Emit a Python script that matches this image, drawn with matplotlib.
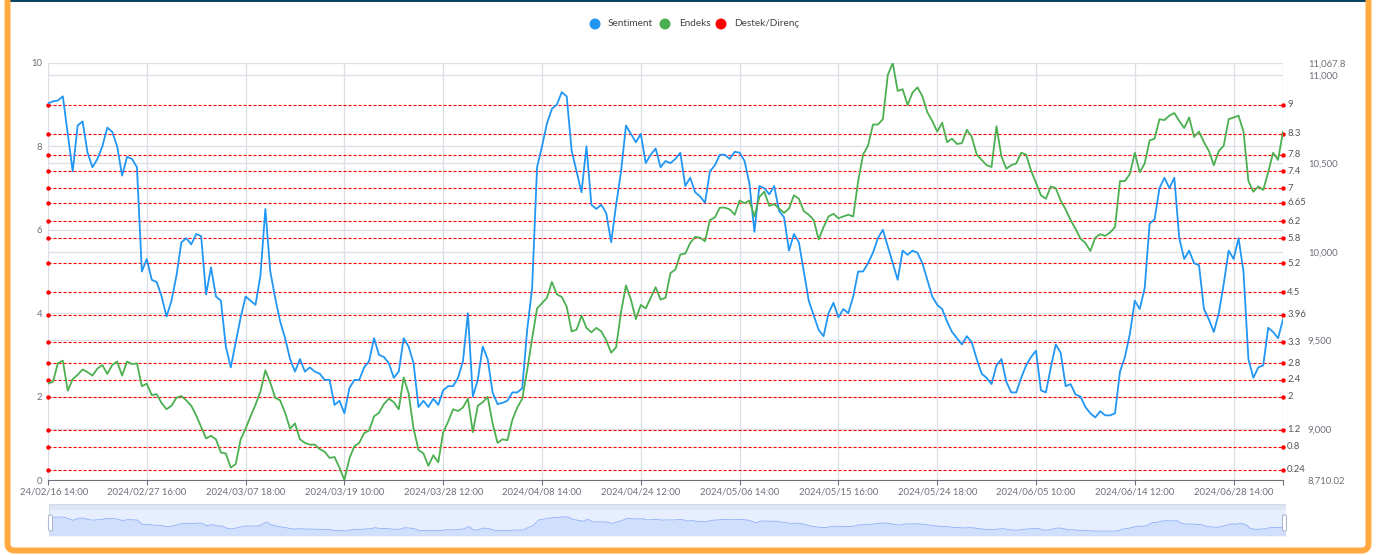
import matplotlib
matplotlib.use('Agg')
import matplotlib.pyplot as plt
import matplotlib.transforms as mtransforms
from matplotlib.patches import FancyBboxPatch, Rectangle, Circle
import numpy as np

W, H, DPI = 1381, 555, 100
plt.rcParams['font.family'] = ['Lato', 'DejaVu Sans']

# ---------------- data ----------------
series_names = ['Sentiment', 'Endeks', 'Destek/Direnç']
series_colors = ['#2196F3', '#4CAF50', '#FF0000']

tick_labels = ["24/02/16 14:00", "2024/02/27 16:00", "2024/03/07 18:00", "2024/03/19 10:00",
               "2024/03/28 12:00", "2024/04/08 14:00", "2024/04/24 12:00", "2024/05/06 14:00",
               "2024/05/15 16:00", "2024/05/24 18:00", "2024/06/05 10:00", "2024/06/14 12:00",
               "2024/06/28 14:00"]
tick_step = 20

sentiment = [
    9.03, 9.08, 9.1, 9.2, 8.3, 7.4, 8.5, 8.6, 7.85, 7.5,
    7.7, 8.0, 8.45, 8.35, 8.0, 7.3, 7.75, 7.7, 7.5, 5.0,
    5.3, 4.8, 4.75, 4.4, 3.92, 4.3, 4.9, 5.7, 5.8, 5.65,
    5.9, 5.85, 4.45, 5.1, 4.4, 4.3, 3.2, 2.7, 3.3, 3.9,
    4.4, 4.3, 4.2, 4.9, 6.5, 5.0, 4.36, 3.8, 3.4, 2.9,
    2.6, 2.9, 2.6, 2.7, 2.6, 2.55, 2.4, 2.4, 1.8, 1.9,
    1.6, 2.2, 2.4, 2.4, 2.7, 2.85, 3.4, 3.0, 2.95, 2.8,
    2.45, 2.6, 3.4, 3.2, 2.8, 1.75, 1.9, 1.75, 1.95, 1.8,
    2.15, 2.25, 2.25, 2.45, 2.85, 4.0, 2.0, 2.4, 3.2, 2.9,
    2.1, 1.82, 1.85, 1.9, 2.1, 2.1, 2.2, 3.6, 4.6, 7.5,
    8.0, 8.55, 8.9, 9.0, 9.3, 9.2, 7.9, 7.4, 6.9, 8.0,
    6.6, 6.5, 6.6, 6.4, 5.7, 6.6, 7.4, 8.5, 8.3, 8.1,
    8.3, 7.6, 7.8, 7.95, 7.5, 7.65, 7.6, 7.7, 7.85, 7.05,
    7.25, 6.9, 6.8, 6.65, 7.4, 7.55, 7.8, 7.8, 7.7, 7.87,
    7.85, 7.65, 7.1, 5.95, 7.05, 7.0, 6.85, 7.05, 6.45, 6.3,
    5.5, 5.9, 5.7, 5.0, 4.3, 3.95, 3.6, 3.45, 4.0, 4.25,
    3.9, 4.1, 4.0, 4.4, 5.0, 5.0, 5.2, 5.45, 5.8, 6.0,
    5.6, 5.2, 4.8, 5.5, 5.4, 5.5, 5.45, 5.2, 4.8, 4.4,
    4.2, 4.1, 3.8, 3.55, 3.4, 3.25, 3.45, 3.3, 2.9, 2.55,
    2.45, 2.3, 2.75, 2.9, 2.35, 2.1, 2.1, 2.45, 2.75, 2.95,
    3.1, 2.15, 2.1, 2.7, 3.25, 3.05, 2.25, 2.3, 2.05, 2.0,
    1.75, 1.6, 1.5, 1.65, 1.55, 1.55, 1.6, 2.6, 2.95, 3.5,
    4.3, 4.1, 4.6, 6.15, 6.25, 7.0, 7.25, 7.0, 7.25, 5.8,
    5.3, 5.5, 5.2, 5.15, 4.1, 3.85, 3.55, 4.0, 4.7, 5.5,
    5.3, 5.8, 5.0, 2.9, 2.45, 2.7, 2.75, 3.65, 3.55, 3.4,
    3.85,
]

endeks = [
    9255, 9265, 9370, 9385, 9215, 9280, 9305, 9335, 9320, 9300,
    9340, 9360, 9310, 9360, 9380, 9300, 9380, 9365, 9370, 9240,
    9255, 9190, 9195, 9145, 9110, 9130, 9175, 9185, 9160, 9130,
    9075, 9010, 8945, 8960, 8940, 8865, 8860, 8780, 8800, 8940,
    9000, 9070, 9135, 9210, 9330, 9260, 9175, 9160, 9090, 9000,
    9030, 8940, 8920, 8910, 8910, 8885, 8870, 8835, 8840, 8780,
    8710.02, 8830, 8900, 8920, 8975, 8990, 9070, 9090, 9140, 9170,
    9150, 9110, 9290, 9200, 9000, 8880, 8860, 8790, 8850, 8810,
    8980, 9040, 9110, 9100, 9120, 9170, 8980, 9130, 9150, 9180,
    9030, 8920, 8940, 8935, 9050, 9120, 9170, 9330, 9510, 9680,
    9710, 9740, 9830, 9760, 9745, 9690, 9550, 9560, 9640, 9570,
    9545, 9570, 9550, 9500, 9430, 9460, 9660, 9810, 9730, 9620,
    9700, 9680, 9740, 9800, 9730, 9740, 9880, 9900, 9985, 9990,
    10050, 10085, 10080, 10060, 10180, 10195, 10250, 10250, 10240, 10210,
    10290, 10275, 10290, 10200, 10310, 10340, 10260, 10270, 10245, 10220,
    10245, 10320, 10300, 10230, 10210, 10180, 10070, 10140, 10200, 10215,
    10190, 10200, 10210, 10200, 10400, 10550, 10600, 10720, 10720, 10750,
    11000, 11067.8, 10910, 10920, 10830, 10900, 10930, 10880, 10790, 10740,
    10680, 10730, 10620, 10640, 10610, 10615, 10690, 10650, 10550, 10520,
    10490, 10480, 10710, 10540, 10470, 10490, 10500, 10560, 10550, 10460,
    10390, 10320, 10300, 10370, 10360, 10290, 10240, 10180, 10130, 10075,
    10050, 10005, 10080, 10100, 10090, 10110, 10140, 10400, 10400, 10440,
    10560, 10450, 10500, 10630, 10640, 10750, 10745, 10770, 10785, 10740,
    10700, 10760, 10650, 10680, 10620, 10570, 10490, 10570, 10600, 10750,
    10760, 10770, 10680, 10400, 10340, 10370, 10350, 10450, 10560, 10520,
    10680,
]

levels = [9, 8.3, 7.8, 7.4, 7, 6.65, 6.2, 5.8, 5.2, 4.5, 3.96, 3.3, 2.8, 2.4, 2, 1.2, 0.8, 0.24]
left_ticks = [0, 2, 4, 6, 8, 10]
right_ticks = [9000, 9500, 10000, 10500, 11000]

# ---------------- figure ----------------
fig = plt.figure(figsize=(W / DPI, H / DPI), dpi=DPI)
fig.patch.set_facecolor('white')


def fx(px):
    return px / W


def fy(py):
    return 1 - py / H


AXC = '#6E7079'
GRID = '#DCDFE5'
FS = 6.8

L, R, T, B = 48, 1283, 63, 480
ax = fig.add_axes([fx(L), fy(B), (R - L) / W, (B - T) / H])
ax2 = ax.twinx()
n = len(sentiment)
x = np.arange(n)
emin, emax = min(endeks), max(endeks)
ax.set_xlim(0, n - 1)
ax.set_ylim(0, 10)
ax2.set_ylim(emin, emax)
ax.set_facecolor('none')

# grid lines
for v in left_ticks[1:]:
    ax.axhline(v, color=GRID, lw=0.9, zorder=0.5)
btrans = mtransforms.blended_transform_factory(ax.transAxes, ax2.transData)
for v in right_ticks:
    ax.plot([0, 1], [v, v], transform=btrans, color=GRID, lw=0.9, zorder=0.5)
xt = list(range(0, n, tick_step)) + [n - 1]
for v in xt:
    ax.axvline(v, color=GRID, lw=0.9, zorder=0.5)

# support / resistance lines
red = series_colors[2]
for lv in levels:
    ax.plot([0, n - 1], [lv, lv], color=red, lw=0.8, dashes=(2.8, 1.7), zorder=2)
    ax.plot([0, n - 1], [lv, lv], 'o', ms=3.2, mew=0, color=red, clip_on=False, zorder=2.1)
    ax.annotate(f'{lv:g}', xy=(1, lv), xycoords=('axes fraction', 'data'), xytext=(3, 0),
                textcoords='offset points', va='center', ha='left', fontsize=FS, color='#555555')

# series
ax.plot(x, sentiment, color=series_colors[0], lw=1.3, zorder=3, solid_joinstyle='round')
gtrans = mtransforms.blended_transform_factory(ax.transData, ax2.transData)
ax.plot(x, endeks, color=series_colors[1], lw=1.3, zorder=3.1, transform=gtrans,
        solid_joinstyle='round')
ax.set_xlim(0, n - 1)
ax.set_ylim(0, 10)

# axes styling
for a in (ax, ax2):
    for s in a.spines.values():
        s.set_visible(False)
ax.spines['bottom'].set_visible(True)
ax.spines['bottom'].set_color(AXC)
ax.spines['bottom'].set_linewidth(0.8)

ax.set_xticks(xt)
ax.set_xticklabels([''] + tick_labels[1:] + [''])
ax.tick_params(axis='x', length=3.6, width=0.8, color=AXC, labelsize=FS, labelcolor=AXC, pad=2)
fig.text(fx(54), fy(492), tick_labels[0], ha='center', va='center', fontsize=FS, color=AXC)

ax.set_yticks(left_ticks)
ax.set_yticklabels([f'{v:g}' for v in left_ticks])
ax.tick_params(axis='y', length=0, labelsize=FS, labelcolor=AXC, pad=4.3)


def fmt(v):
    s = f'{v:,.2f}'.rstrip('0').rstrip('.')
    return s


rt = [emin] + right_ticks + [emax]
ax2.set_yticks(rt)
ax2.set_yticklabels([fmt(v) for v in rt])
ax2.tick_params(axis='y', length=0, labelsize=FS, labelcolor=AXC, pad=18)

# ---------------- legend ----------------
leg_pos = [(595, 608), (665, 679), (721, 734.5)]
for (cx, tx), name, col in zip(leg_pos, series_names, series_colors):
    fig.add_artist(Circle((cx / DPI, (H - 24) / DPI), 5.5 / DPI, transform=fig.dpi_scale_trans,
                          fc=col, ec='none'))
    fig.text(fx(tx), fy(24), name, ha='left', va='center', fontsize=7.2, color='#444444')

# ---------------- data zoom slider ----------------
sx0, sx1, sy0, sy1 = 48.5, 1285.5, 504, 536
sax = fig.add_axes([fx(sx0), fy(sy1), (sx1 - sx0) / W, (sy1 - sy0) / H])
sax.set_xlim(0, n - 1)
sax.set_ylim(0, 1)
sax.axis('off')
top_frac = 6 / 32
sax.add_patch(Rectangle((0, 0), 1, 1 - top_frac, transform=sax.transAxes,
                        fc=(135 / 255, 175 / 255, 1.0, 0.2), ec='none'))
sax.add_patch(Rectangle((0, 1 - top_frac), 1, top_frac, transform=sax.transAxes,
                        fc='#D2DBEE', alpha=0.75, ec='none'))
sarr = np.array(sentiment)
smin, smax = sarr.min(), sarr.max()
yy = 0.15 + (sarr - smin) / (smax - smin) * 0.45
sax.fill_between(x, 0, yy, color='#8fb0f7', alpha=0.25, lw=0)
sax.plot(x, yy, color='#8fb0f7', lw=0.6)
sax.add_patch(Rectangle((0, 0), 1, 1, transform=sax.transAxes, fill=False, ec='#d2dbee', lw=0.8))

for hx in (48.5, 1282.5):
    fig.add_artist(FancyBboxPatch((hx / DPI, (H - 531) / DPI), 4 / DPI, 16 / DPI,
                                  boxstyle=f"round,pad=0,rounding_size={1.5 / DPI}",
                                  transform=fig.dpi_scale_trans, fc='white', ec='#ACB8D1', lw=0.8))

# ---------------- frame ----------------
fig.add_artist(Rectangle((8 / DPI, (H - 2) / DPI), (1366 - 8) / DPI, 2 / DPI,
                         transform=fig.dpi_scale_trans, fc='#0B4463', ec='none', zorder=5))
fig.add_artist(FancyBboxPatch((7.5 / DPI, 4.5 / DPI), (1368.5 - 7.5) / DPI, (H + 20) / DPI,
                              boxstyle=f"round,pad=0,rounding_size={7 / DPI}",
                              transform=fig.dpi_scale_trans, fill=False, ec='#FFA940',
                              lw=4.3, zorder=6))

fig.savefig('out.png', dpi=DPI)
